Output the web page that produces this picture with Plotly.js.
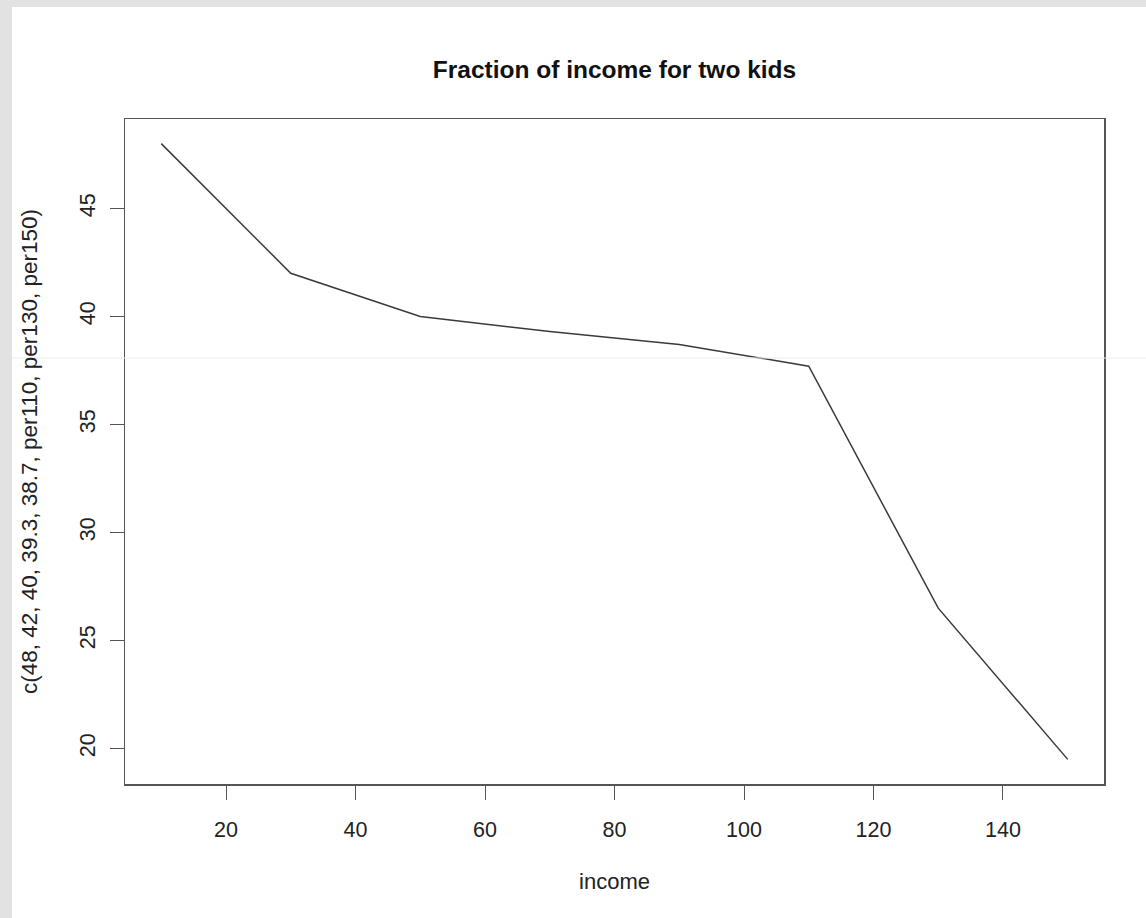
<!DOCTYPE html>
<html>
<head>
<meta charset="utf-8">
<script src="https://cdn.plot.ly/plotly-3.0.1.min.js"></script>
<style>
  html, body { margin: 0; padding: 0; width: 1146px; height: 918px; background: #e2e2e2; overflow: hidden; }
  #panel { position: absolute; left: 12px; top: 7px; width: 1134px; height: 911px; background: #ffffff; }
  #chart { width: 1134px; height: 911px; }
</style>
</head>
<body>
<div id="panel"><div id="chart"></div></div>
<script>
const income = [10, 30, 50, 70, 90, 110, 130, 150];
const fraction = [48, 42, 40, 39.3, 38.7, 37.7, 26.5, 19.5];
const xTicks = [20, 40, 60, 80, 100, 120, 140];
const yTicks = [20, 25, 30, 35, 40, 45];
const titleText = "Fraction of income for two kids";
const xTitle = "income";
const yTitle = "c(48, 42, 40, 39.3, 38.7, per110, per130, per150)";

const font = "Liberation Sans, Arial, Helvetica, sans-serif";

const trace = {
  x: income, y: fraction, type: "scatter", mode: "lines",
  line: { color: "#3a3a3a", width: 1.5 }, hoverinfo: "skip"
};

const layout = {
  width: 1134, height: 911,
  paper_bgcolor: "rgba(0,0,0,0)", plot_bgcolor: "#ffffff",
  margin: { l: 113, r: 42, t: 112, b: 134 },
  showlegend: false,
  font: { family: font, color: "#222222", size: 22 },
  title: { text: "<b>" + titleText + "</b>", font: { family: font, size: 24.5, color: "#111111" },
           x: 0.5, xanchor: "center", xref: "paper", y: 1 - 62 / 911, yanchor: "middle", yref: "container" },
  xaxis: {
    range: [4.4, 155.6], tickvals: xTicks, ticktext: xTicks.map(String),
    ticks: "outside", ticklen: 14, tickwidth: 1, tickcolor: "#555555",
    showgrid: false, zeroline: false,
    showline: true, mirror: true, linecolor: "#555555", linewidth: 1.5,
    tickfont: { size: 21.5, color: "#222222" }, ticklabelstandoff: 12,
    title: { text: xTitle, font: { size: 22, color: "#222222" }, standoff: 32 }
  },
  yaxis: {
    range: [18.36, 49.14], tickvals: yTicks, ticktext: yTicks.map(String),
    ticks: "outside", ticklen: 14, tickwidth: 1, tickcolor: "#555555",
    showgrid: false, zeroline: false, tickangle: -90,
    showline: true, mirror: true, linecolor: "#555555", linewidth: 1.5,
    tickfont: { size: 21.5, color: "#222222" }, ticklabelstandoff: 6,
    title: { text: yTitle, font: { size: 22.5, color: "#222222" }, standoff: 32 }
  },
  shapes: [
    { type: "line", xref: "paper", yref: "paper", x0: -0.2, x1: 1.2,
      y0: 1 - (351 - 112) / 665, y1: 1 - (351 - 112) / 665,
      line: { color: "#ececec", width: 1 }, layer: "above" }
  ]
};

Plotly.newPlot("chart", [trace], layout, { displayModeBar: false, staticPlot: true });
</script>
</body>
</html>
